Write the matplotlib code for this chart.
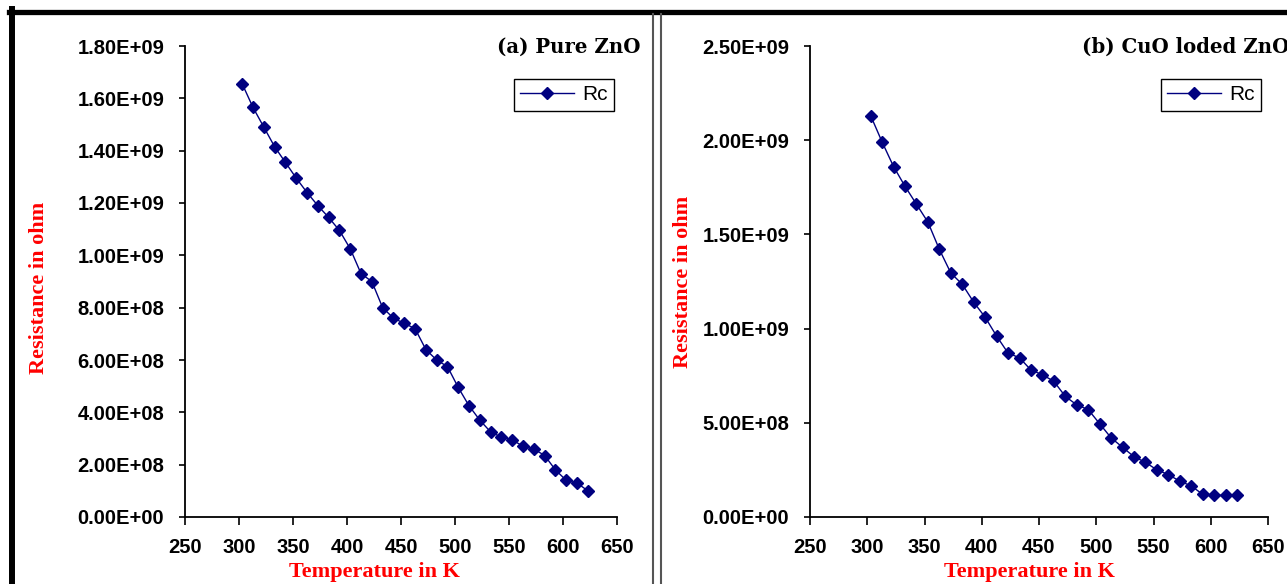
import matplotlib
matplotlib.use('Agg')
import matplotlib.pyplot as plt
from matplotlib.lines import Line2D
from matplotlib.ticker import FixedLocator

# temperatures (K) and resistance (ohm)
temp = [303, 313, 323, 333, 343, 353, 363, 373, 383, 393, 403, 413, 423, 433, 443,
        453, 463, 473, 483, 493, 503, 513, 523, 533, 543, 553, 563, 573, 583, 593,
        603, 613, 623]
rc_pure = [1.655e9, 1.565e9, 1.49e9, 1.415e9, 1.355e9, 1.295e9, 1.24e9, 1.19e9,
           1.145e9, 1.095e9, 1.025e9, 0.93e9, 0.90e9, 0.80e9, 0.76e9, 0.74e9,
           0.72e9, 0.64e9, 0.60e9, 0.575e9, 0.495e9, 0.425e9, 0.37e9, 0.325e9,
           0.305e9, 0.295e9, 0.27e9, 0.26e9, 0.235e9, 0.18e9, 0.14e9, 0.13e9,
           0.10e9]
rc_cuo = [2.13e9, 1.99e9, 1.86e9, 1.755e9, 1.66e9, 1.565e9, 1.42e9, 1.295e9,
          1.235e9, 1.14e9, 1.06e9, 0.96e9, 0.87e9, 0.845e9, 0.78e9, 0.755e9,
          0.72e9, 0.64e9, 0.595e9, 0.57e9, 0.495e9, 0.42e9, 0.37e9, 0.32e9,
          0.29e9, 0.25e9, 0.225e9, 0.19e9, 0.165e9, 0.12e9, 0.115e9, 0.115e9,
          0.115e9]

x_ticks = [250, 300, 350, 400, 450, 500, 550, 600, 650]
y_ticks_a = [0, 2e8, 4e8, 6e8, 8e8, 1e9, 1.2e9, 1.4e9, 1.6e9, 1.8e9]
y_labels_a = ['0.00E+00', '2.00E+08', '4.00E+08', '6.00E+08', '8.00E+08',
              '1.00E+09', '1.20E+09', '1.40E+09', '1.60E+09', '1.80E+09']
y_ticks_b = [0, 5e8, 1e9, 1.5e9, 2e9, 2.5e9]
y_labels_b = ['0.00E+00', '5.00E+08', '1.00E+09', '1.50E+09', '2.00E+09', '2.50E+09']

W, H = 1287, 584
fig = plt.figure(figsize=(W / 100, H / 100), dpi=100)
fig.patch.set_facecolor('white')

sans = ['Liberation Sans', 'DejaVu Sans']
serif = ['Liberation Serif', 'DejaVu Serif']


def px_rect(x0, x1, ytop, ybot):
    return [x0 / W, 1 - ybot / H, (x1 - x0) / W, (ybot - ytop) / H]


def panel(rect, vals, yt, yl, ymax, title, title_x, ylab_x, ylab_y, xlab_x, leg_right):
    ax = fig.add_axes(rect)
    ax.plot(temp, vals, color='#000080', lw=1.0, marker='D', ms=6.5,
            markerfacecolor='#000080', markeredgecolor='#000080', label='Rc')
    ax.set_xlim(250, 650)
    ax.set_ylim(0, ymax)
    ax.xaxis.set_major_locator(FixedLocator(x_ticks))
    ax.set_xticklabels([str(v) for v in x_ticks])
    ax.yaxis.set_major_locator(FixedLocator(yt))
    ax.set_yticklabels(yl)
    for lab in ax.get_xticklabels() + ax.get_yticklabels():
        lab.set_family(sans)
        lab.set_fontweight('bold')
        lab.set_fontsize(14.5)
    ax.tick_params(axis='x', direction='out', length=6, width=1.2, pad=9)
    ax.tick_params(axis='y', direction='out', length=4, width=1.2, pad=11)
    for s in ['top', 'right']:
        ax.spines[s].set_visible(False)
    for s in ['left', 'bottom']:
        ax.spines[s].set_linewidth(1.3)
    ax.set_ylabel('Resistance in ohm', color='red', family=serif,
                  fontweight='bold', fontsize=16)
    ax.yaxis.set_label_coords(ylab_x, ylab_y)
    ax.set_xlabel('Temperature in K', color='red', family=serif,
                  fontweight='bold', fontsize=16)
    ax.xaxis.set_label_coords(xlab_x, -0.096)
    leg = ax.legend(loc='upper right', bbox_to_anchor=(leg_right / W, 1 - 79 / H),
                    bbox_transform=fig.transFigure, borderaxespad=0,
                    fancybox=False, framealpha=1, edgecolor='black',
                    handlelength=2.6, handletextpad=0.4, borderpad=0.3,
                    prop={'family': sans, 'size': 15})
    leg.get_frame().set_linewidth(1.0)
    fig.text(title_x / W, 1 - 47 / H, title, family=['DejaVu Serif'],
             fontweight='bold', fontsize=14.2, ha='left', va='center')
    return ax


panel(px_rect(185, 617, 46, 517), rc_pure, y_ticks_a, y_labels_a, 1.8e9,
      '(a) Pure ZnO', 497, -0.315, 0.486, 0.4375, 614)
panel(px_rect(810, 1268, 46, 517), rc_cuo, y_ticks_b, y_labels_b, 2.5e9,
      '(b) CuO loded ZnO', 1082, -0.256, 0.5, 0.48, 1261)

# outer frame and divider
fig.add_artist(Line2D([9 / W, 1], [1 - 11.5 / H] * 2, color='black', lw=3.8,
                      transform=fig.transFigure))
fig.add_artist(Line2D([12 / W] * 2, [0, 1 - 9 / H], color='black', lw=4.3,
                      transform=fig.transFigure))
for xp in [653, 661]:
    fig.add_artist(Line2D([xp / W] * 2, [0, 1 - 14 / H], color='#555555', lw=1.5,
                          transform=fig.transFigure))

fig.savefig('out.png', dpi=100, facecolor='white')
